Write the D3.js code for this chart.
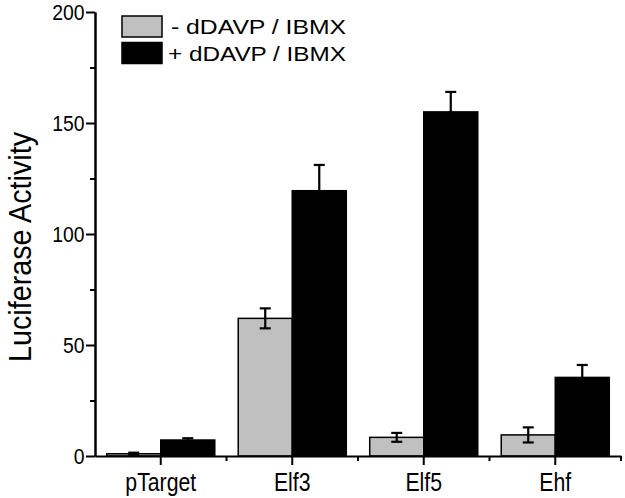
<!DOCTYPE html>
<html>
<head>
	<title>Luciferase Activity</title>
	<style type="text/css">
		body {
			margin: 0;
			background: #fff;
		}

		svg text {
			font-family: "Liberation Sans", Arial, sans-serif;
			fill: #000;
		}

		.axis path,
		.axis line {
			stroke: #000;
			stroke-width: 2px;
		}
	</style>
	<script src="https://d3js.org/d3.v7.min.js"></script>
</head>
<body>
<script type="text/javascript">
	var categories = ["pTarget", "Elf3", "Elf5", "Ehf"];
	var seriesNames = ["- dDAVP / IBMX", "+ dDAVP / IBMX"];
	var minusValues = [1.0, 62, 8.4, 9.5];
	var minusErrors = [0.5, 4.5, 2, 3.4];
	var plusValues = [7.2, 119.5, 155, 35.4];
	var plusErrors = [0.8, 11.6, 9, 5.6];
	var majorTicks = [0, 50, 100, 150, 200];
	var minorTicks = [25, 75, 125, 175];
	var seriesColors = ["#c0c0c0", "#000000"];

	var svg = d3.select("body").append("svg")
			.attr("width", 625)
			.attr("height", 498);

	var margin = {top: 12, right: 4, bottom: 42, left: 95},
		width = 625 - margin.left - margin.right,
		height = 498 - margin.top - margin.bottom;

	var x = d3.scaleBand()
		.domain(categories)
		.range([0, width])
		.padding(0);

	var xs = d3.scaleBand()
		.domain(seriesNames)
		.range([0, x.bandwidth()])
		.paddingInner(0)
		.paddingOuter(0.217);

	var y = d3.scaleLinear()
		.domain([0, 200])
		.range([height, 0]);

	var color = d3.scaleOrdinal().domain(seriesNames).range(seriesColors);

	var data = [];
	categories.forEach(function(c, i) {
		data.push({cat: c, series: seriesNames[0], value: minusValues[i], err: minusErrors[i]});
		data.push({cat: c, series: seriesNames[1], value: plusValues[i], err: plusErrors[i]});
	});

	var g = svg.append("g")
			.attr("transform", "translate(" + margin.left + "," + margin.top + ")");

	// bars
	g.selectAll(".bar")
		.data(data)
		.enter().append("rect")
			.attr("class", "bar")
			.attr("x", function(d) { return x(d.cat) + xs(d.series); })
			.attr("y", function(d) { return y(d.value); })
			.attr("width", xs.bandwidth())
			.attr("height", function(d) { return height - y(d.value); })
			.attr("fill", function(d) { return color(d.series); })
			.attr("stroke", "#000")
			.attr("stroke-width", 1.5);

	// error bars
	var eb = g.selectAll(".err")
		.data(data)
		.enter().append("g")
			.attr("class", "err")
			.attr("transform", function(d) { return "translate(" + (x(d.cat) + xs(d.series) + xs.bandwidth() / 2) + ",0)"; });

	eb.append("line")
		.attr("y1", function(d) { return y(d.value - d.err); })
		.attr("y2", function(d) { return y(d.value + d.err); });
	eb.append("line")
		.attr("x1", -5.5).attr("x2", 5.5)
		.attr("y1", function(d) { return y(d.value + d.err); })
		.attr("y2", function(d) { return y(d.value + d.err); });
	eb.append("line")
		.attr("x1", -5.5).attr("x2", 5.5)
		.attr("y1", function(d) { return y(d.value - d.err); })
		.attr("y2", function(d) { return y(d.value - d.err); });
	eb.selectAll("line")
		.attr("stroke", "#000")
		.attr("stroke-width", 2.2);

	// y axis
	g.append("g")
		.attr("class", "axis")
		.call(d3.axisLeft(y).tickValues(minorTicks).tickSize(5).tickSizeOuter(0).tickFormat(""));

	var yAxis = g.append("g")
		.attr("class", "axis")
		.call(d3.axisLeft(y).tickValues(majorTicks).tickSize(9).tickSizeOuter(0).tickPadding(3));
	yAxis.selectAll("text")
		.style("font-size", "22px")
		.attr("transform", "scale(0.88,1)");

	// x axis
	var xAxis = g.append("g")
		.attr("class", "axis")
		.attr("transform", "translate(0," + height + ")")
		.call(d3.axisBottom(x).tickSize(9).tickSizeOuter(0).tickPadding(8));
	xAxis.selectAll("text")
		.style("font-size", "25px")
		.attr("transform", "scale(0.85,1)");

	xAxis.selectAll(".minor")
		.data(categories)
		.enter().append("line")
			.attr("class", "minor")
			.attr("x1", function(d) { return x(d) + x.bandwidth(); })
			.attr("x2", function(d) { return x(d) + x.bandwidth(); })
			.attr("y1", 0)
			.attr("y2", 5);

	// axis title
	svg.append("text")
		.attr("transform", "translate(31,247) rotate(-90)")
		.attr("text-anchor", "middle")
		.attr("textLength", 230)
		.attr("lengthAdjust", "spacingAndGlyphs")
		.style("font-size", "32px")
		.text("Luciferase Activity");

	// legend
	var legend = svg.selectAll(".legend")
		.data(seriesNames)
		.enter().append("g")
			.attr("class", "legend")
			.attr("transform", function(d, i) { return "translate(122," + (16 + i * 26.5) + ")"; });

	legend.append("rect")
		.attr("width", 40)
		.attr("height", 21)
		.attr("fill", function(d) { return color(d); })
		.attr("stroke", "#000")
		.attr("stroke-width", 1.5);

	legend.append("text")
		.attr("x", function(d, i) { return i === 0 ? 49 : 46; })
		.attr("y", 18)
		.attr("textLength", function(d, i) { return i === 0 ? 175 : 178; })
		.attr("lengthAdjust", "spacingAndGlyphs")
		.style("font-size", "21px")
		.text(function(d) { return d; });
</script>
</body>
</html>
